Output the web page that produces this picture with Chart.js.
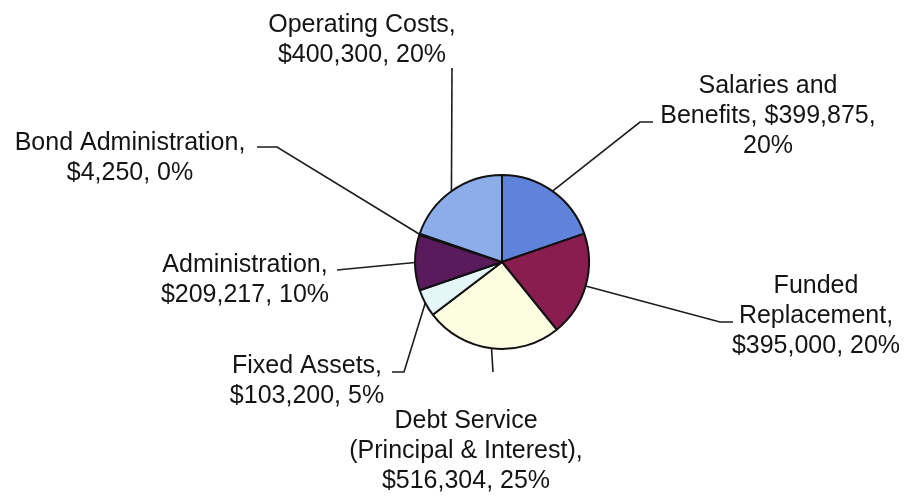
<!DOCTYPE html>
<html>
<head>
<meta charset="utf-8">
<script src="https://cdn.jsdelivr.net/npm/chart.js@4.4.1/dist/chart.umd.min.js"></script>
<style>
    html, body { margin: 0; padding: 0; background: #ffffff; }
    #piechart { display: block; }
</style>
</head>
<body>
<canvas id="piechart" width="907" height="496"></canvas>
<script>
// data, clockwise from 12 o'clock
const categories = ["Salaries and Benefits", "Funded Replacement", "Debt Service (Principal & Interest)",
    "Fixed Assets", "Administration", "Bond Administration", "Operating Costs"];
const amounts = [399875, 395000, 516304, 103200, 209217, 4250, 400300];
const percents = [20, 20, 25, 5, 10, 0, 20];
const labelLines = [
    ["Salaries and", "Benefits, $399,875,", "20%"],
    ["Funded", "Replacement,", "$395,000, 20%"],
    ["Debt Service", "(Principal & Interest),", "$516,304, 25%"],
    ["Fixed Assets,", "$103,200, 5%"],
    ["Administration,", "$209,217, 10%"],
    ["Bond Administration,", "$4,250, 0%"],
    ["Operating Costs,", "$400,300, 20%"]
];
const sliceColors = ["#5f82da", "#8a1d4f", "#fdfde1", "#e5f6f9", "#5a1b5d", "#7a7fc0", "#8cadea"];

// label placement, offsets from the pie centre (text = first baseline, end = leader end, tail = short flat bit)
const labelLayout = [
    { tx: 266, ty: -169, ex: 138, ey: -140, hx: 151 },
    { tx: 314, ty: 31, ex: 218, ey: 60, hx: 231 },
    { tx: -36, ty: 166, ex: -9, ey: 110 },
    { tx: -195, ty: 111, ex: -98, ey: 110, hx: -110 },
    { tx: -257, ty: 10, ex: -165, ey: 8 },
    { tx: -372, ty: -112, ex: -225, ey: -115, hx: -245 },
    { tx: -140, ty: -230, ex: -50, ey: -194 }
];

const leaderLabels = {
    id: 'leaderLabels',
    afterDraw(chart) {
        const ctx = chart.ctx;
        const arcs = chart.getDatasetMeta(0).data;
        ctx.save();
        for (let i = 0; i < arcs.length; i++) {
            const a = arcs[i].getProps(['x', 'y', 'startAngle', 'endAngle', 'outerRadius'], true);
            const mid = (a.startAngle + a.endAngle) / 2;
            const px = a.x + Math.cos(mid) * a.outerRadius;
            const py = a.y + Math.sin(mid) * a.outerRadius;
            const L = labelLayout[i];
            ctx.strokeStyle = '#1c1c1c';
            ctx.lineWidth = 1.6;
            ctx.beginPath();
            ctx.moveTo(px, py);
            ctx.lineTo(a.x + L.ex, a.y + L.ey);
            if (L.hx !== undefined) {
                ctx.lineTo(a.x + L.hx, a.y + L.ey);
            }
            ctx.stroke();

            ctx.fillStyle = '#141414';
            ctx.font = '25px "Liberation Sans", Arial, sans-serif';
            ctx.textAlign = 'center';
            ctx.textBaseline = 'alphabetic';
            const lines = labelLines[i];
            for (let j = 0; j < lines.length; j++) {
                ctx.fillText(lines[j], a.x + L.tx, a.y + L.ty + j * 30);
            }
        }
        ctx.restore();
    }
};

const bgWhite = {
    id: 'bgWhite',
    beforeDraw(chart) {
        const ctx = chart.ctx;
        ctx.save();
        ctx.fillStyle = '#ffffff';
        ctx.fillRect(0, 0, chart.width, chart.height);
        ctx.restore();
    }
};

var ctx = document.getElementById('piechart').getContext('2d');
var myPieChart = new Chart(ctx, {
    type: 'pie',
    data: {
        labels: categories,
        datasets: [{
            data: amounts,
            backgroundColor: sliceColors,
            borderColor: '#111111',
            borderWidth: 2
        }]
    },
    options: {
        responsive: false,
        animation: false,
        layout: {
            padding: { left: 414, right: 317, top: 174, bottom: 146 }
        },
        plugins: {
            legend: { display: false },
            tooltip: { enabled: false },
            title: { display: false }
        }
    },
    plugins: [bgWhite, leaderLabels]
});
</script>
</body>
</html>
